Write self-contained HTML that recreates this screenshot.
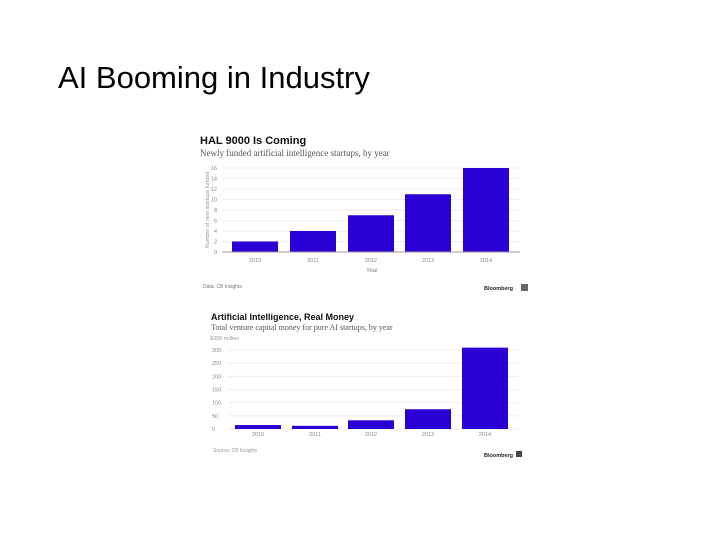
<!DOCTYPE html>
<html><head><meta charset="utf-8"><style>
body{margin:0;width:720px;height:540px;background:#fff;overflow:hidden;font-family:"Liberation Sans",sans-serif}
#title{position:absolute;left:58px;top:60px;font-size:31px;line-height:36px;color:#000}
</style></head><body>
<div id="title">AI Booming in Industry</div>
<svg id="svg" width="720" height="540" style="position:absolute;left:0;top:0"></svg>
<script>
const years1=["2010","2011","2012","2013","2014"];
const startups=[2,4,7,11,16];
const ticks1=[0,2,4,6,8,10,12,14,16];
const years2=["2010","2011","2012","2013","2014"];
const money=[15,12,33,75,309];
const ticks2=[0,50,100,150,200,250,300];
const NS="http://www.w3.org/2000/svg";
const svg=document.getElementById('svg');
function el(t,a,txt){const e=document.createElementNS(NS,t);for(const k in a)e.setAttribute(k,a[k]);if(txt!==undefined)e.textContent=txt;svg.appendChild(e);return e;}
// Chart 1
const y1=v=>252-v*84/16;
const bx1=[232,290,348,405,463];
let t=el('text',{x:200,y:144,'font-size':11,'font-weight':'bold',fill:'#111'},'HAL 9000 Is Coming');

t=el('text',{x:200,y:156,'font-size':9,fill:'#555','font-family':'Liberation Serif'},'Newly funded artificial intelligence startups, by year');

ticks1.forEach(v=>{let g=el('line',{x1:222,x2:520,y1:y1(v),y2:y1(v),stroke:'#eee'});
let l=el('text',{x:217,y:y1(v)+2,'font-size':5.5,fill:'#888','text-anchor':'end'},v);});
startups.forEach((v,i)=>{const w=46;const x=bx1[i];
let r=el('rect',{x:x,y:y1(v),width:w,height:252-y1(v),fill:'#2b00d4'});
let l=el('text',{x:x+w/2,y:262,'font-size':5.5,fill:'#888','text-anchor':'middle'},years1[i]);});
el('line',{x1:222,x2:520,y1:252,y2:252,stroke:'#999'});
t=el('text',{x:372,y:272,'font-size':6,fill:'#888','text-anchor':'middle'},'Year');
t=el('text',{x:0,y:0,'font-size':5.5,fill:'#999','text-anchor':'middle',transform:'translate(209,210) rotate(-90)'},'Number of new startups funded');
t=el('text',{x:203,y:288,'font-size':5,fill:'#777'},'Data: CB Insights');
t=el('text',{x:484,y:290,'font-size':5.5,'font-weight':'bold',fill:'#222'},'Bloomberg');
el('rect',{x:521,y:284,width:7,height:7,fill:'#666'});
// Chart 2
const y2=v=>429-v*79/300;
const bx2=[235,292,348,405,462];
t=el('text',{x:211,y:320,'font-size':9,'font-weight':'bold',fill:'#111'},'Artificial Intelligence, Real Money');
t=el('text',{x:211,y:330,'font-size':8,fill:'#555','font-family':'Liberation Serif'},'Total venture capital money for pure AI startups, by year');
t=el('text',{x:210,y:340,'font-size':5.5,fill:'#999'},'$350 million');
ticks2.forEach(v=>{let g=el('line',{x1:228,x2:518,y1:y2(v),y2:y2(v),stroke:'#eee'});
let l=el('text',{x:212,y:y2(v)+2,'font-size':5.5,fill:'#888'},v);});
money.forEach((v,i)=>{const w=46;const x=bx2[i];
let r=el('rect',{x:x,y:y2(v),width:w,height:429-y2(v),fill:'#2b00d4'});
let l=el('text',{x:x+w/2,y:436,'font-size':5.5,fill:'#888','text-anchor':'middle'},years2[i]);});
t=el('text',{x:213,y:452,'font-size':5,fill:'#999'},'Source: CB Insights');
t=el('text',{x:484,y:457,'font-size':5.5,'font-weight':'bold',fill:'#222'},'Bloomberg');
el('rect',{x:516,y:451,width:6,height:6,fill:'#444'});
</script>
</body></html>
